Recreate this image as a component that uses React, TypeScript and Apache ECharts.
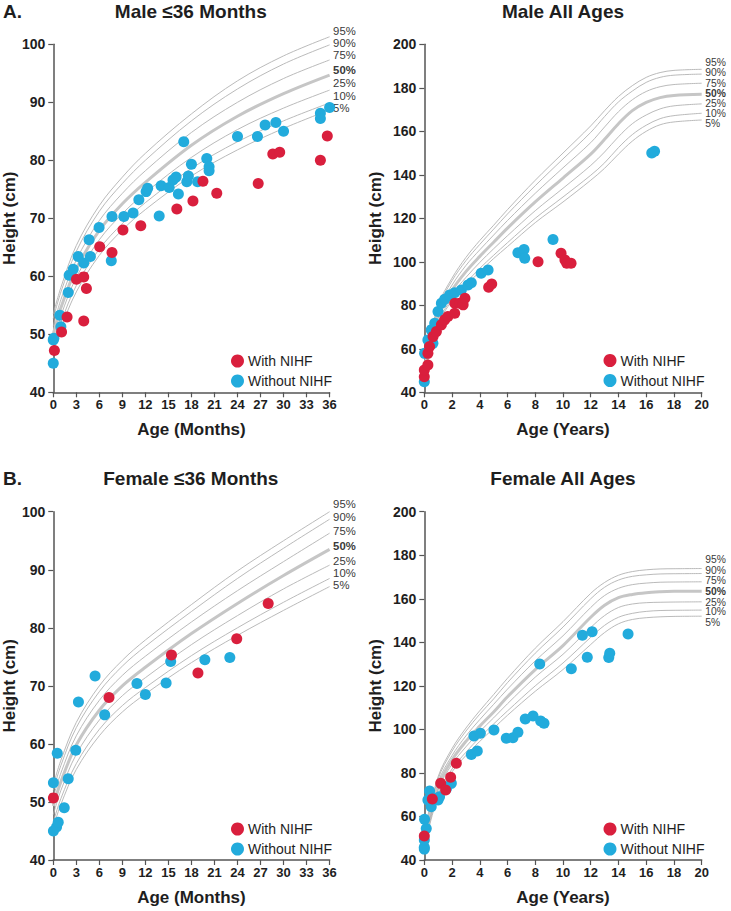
import React, { useEffect, useRef } from "react";
import * as echarts from "echarts";

const RED = "#d91f3d";
const BLUE = "#22abdc";
const FONT = "'Liberation Sans', Arial, Helvetica, sans-serif";

// ---- percentile curves ----
const percentileNames = ["95%", "90%", "75%", "50%", "25%", "10%", "5%"];

const monthAges = [0, 1, 3, 6, 9, 12, 18, 24, 30, 36];
const maleMonthP95 = [53.5, 58.1, 65.3, 72.2, 77.1, 81.2, 88.0, 93.7, 98.0, 101.3];
const maleMonthP90 = [52.7, 57.3, 64.3, 71.2, 76.0, 80.0, 86.8, 92.3, 96.6, 99.9];
const maleMonthP75 = [51.4, 56.0, 62.8, 69.6, 74.3, 78.2, 84.8, 90.0, 94.1, 97.3];
const maleMonthP50 = [50.0, 54.6, 61.3, 67.9, 72.5, 76.2, 82.6, 87.6, 91.5, 94.7];
const maleMonthP25 = [48.6, 53.2, 59.8, 66.3, 70.8, 74.4, 80.5, 85.3, 89.0, 92.1];
const maleMonthP10 = [47.6, 52.0, 58.4, 64.7, 69.1, 72.7, 78.6, 83.2, 86.8, 89.9];
const maleMonthP5 = [46.8, 51.0, 57.3, 63.6, 68.0, 71.5, 77.3, 81.8, 85.5, 88.7];

const femaleMonthP95 = [52.9, 57.2, 63.7, 70.0, 74.4, 77.9, 84.0, 89.8, 95.0, 100.0];
const femaleMonthP90 = [52.0, 56.3, 62.8, 69.0, 73.4, 76.8, 82.8, 88.5, 93.7, 98.7];
const femaleMonthP75 = [50.8, 55.0, 61.4, 67.5, 71.8, 75.1, 81.0, 86.4, 91.4, 96.3];
const femaleMonthP50 = [49.3, 53.5, 59.8, 65.8, 70.0, 73.2, 79.0, 84.2, 89.0, 93.5];
const femaleMonthP25 = [47.8, 52.0, 58.2, 64.1, 68.3, 71.4, 77.1, 82.1, 86.7, 90.8];
const femaleMonthP10 = [46.5, 50.6, 56.6, 62.5, 66.6, 69.7, 75.2, 80.0, 84.4, 88.5];
const femaleMonthP5 = [45.6, 49.6, 55.6, 61.4, 65.5, 68.6, 74.0, 78.7, 83.0, 87.1];

const yearAges = [0, 1, 2, 3, 4, 5, 6, 8, 10, 12, 13, 14, 15, 16, 17, 18, 20];
const maleYearP95 = [53.5, 80.0, 92.5, 102.0, 109.8, 116.8, 124.0, 137.5, 150.0, 162.5, 169.5, 176.0, 181.0, 184.8, 187.0, 188.0, 188.5];
const maleYearP90 = [52.7, 79.0, 91.3, 100.5, 108.0, 115.0, 122.0, 135.0, 147.3, 159.5, 166.8, 173.5, 178.5, 182.5, 184.8, 185.8, 186.3];
const maleYearP75 = [51.4, 77.5, 89.3, 98.3, 105.5, 112.3, 119.0, 131.5, 143.2, 154.8, 162.0, 169.0, 174.5, 178.3, 180.5, 181.5, 182.1];
const maleYearP50 = [50.0, 75.7, 87.0, 95.5, 102.5, 109.0, 115.5, 127.5, 138.5, 149.5, 156.3, 163.5, 169.5, 173.3, 175.5, 176.5, 177.0];
const maleYearP25 = [48.6, 74.0, 85.0, 92.8, 99.7, 106.0, 112.0, 123.5, 133.8, 144.3, 150.5, 157.5, 163.5, 167.5, 170.3, 171.7, 172.6];
const maleYearP10 = [47.6, 72.5, 83.0, 90.3, 97.0, 103.0, 108.8, 120.0, 129.8, 139.8, 145.5, 152.5, 158.5, 162.8, 165.8, 167.2, 168.3];
const maleYearP5 = [46.8, 71.5, 82.0, 89.0, 95.5, 101.5, 107.0, 118.0, 127.5, 137.5, 143.0, 149.5, 155.5, 160.0, 163.0, 164.3, 165.2];

const femaleYearP95 = [52.9, 78.3, 91.2, 100.6, 108.6, 116.0, 123.5, 137.3, 149.5, 162.5, 167.5, 170.8, 172.5, 173.3, 173.7, 173.8, 173.9];
const femaleYearP90 = [52.0, 77.3, 90.0, 99.2, 107.0, 114.0, 121.5, 135.0, 147.0, 160.0, 165.3, 168.6, 170.3, 171.0, 171.4, 171.5, 171.6];
const femaleYearP75 = [50.8, 75.8, 88.0, 97.0, 104.5, 111.5, 118.5, 131.5, 143.0, 156.0, 161.5, 164.8, 166.5, 167.2, 167.6, 167.7, 167.8];
const femaleYearP50 = [49.3, 74.0, 86.0, 94.5, 101.5, 108.0, 115.0, 127.5, 138.5, 151.5, 157.0, 160.5, 162.0, 162.8, 163.2, 163.4, 163.5];
const femaleYearP25 = [47.8, 72.3, 84.0, 92.0, 99.0, 105.3, 111.8, 124.0, 134.5, 146.8, 152.3, 156.0, 157.6, 158.2, 158.4, 158.5, 158.6];
const femaleYearP10 = [46.5, 70.7, 81.8, 89.5, 96.3, 102.5, 108.5, 120.0, 130.5, 142.3, 147.8, 151.5, 153.3, 154.2, 154.6, 154.7, 154.8];
const femaleYearP5 = [45.6, 69.5, 80.5, 88.0, 94.5, 100.5, 106.5, 117.5, 127.5, 139.0, 144.5, 148.5, 150.5, 151.3, 151.7, 151.9, 152.0];

// ---- patient data [age, height] ----
const maleMonthsWith = [
  [0.15, 47.2], [1.08, 50.4], [1.8, 53.0], [3.02, 59.5], [3.97, 59.9], [3.97, 52.3], [4.32, 57.9],
  [6.05, 65.1], [7.65, 64.1], [9.08, 68.0], [11.4, 68.7], [16.1, 71.6], [18.2, 73.0], [19.5, 76.4],
  [21.3, 74.3], [26.7, 76.0], [28.6, 81.1], [29.5, 81.4], [34.8, 80.0], [35.7, 84.2],
];
const maleMonthsWithout = [
  [0, 45.0], [0, 49.0], [0.08, 49.3], [0.86, 53.3], [0.99, 51.3], [1.95, 57.2], [2.07, 60.2],
  [2.6, 61.2], [3.24, 63.4], [3.97, 62.3], [4.67, 66.3], [4.84, 63.4], [5.97, 68.4], [7.56, 62.7],
  [7.65, 70.3], [9.2, 70.3], [10.4, 70.9], [11.15, 73.2], [12.1, 74.6], [12.3, 75.2], [13.8, 70.4],
  [14.05, 75.6], [15.1, 75.3], [15.6, 76.6], [16.0, 77.1], [16.3, 74.2], [17.0, 83.2], [17.4, 76.3],
  [17.6, 77.3], [18.0, 79.3], [18.8, 76.3], [20.0, 80.3], [20.3, 78.9], [20.3, 78.2], [24.0, 84.1],
  [26.6, 84.1], [27.6, 86.1], [29.0, 86.5], [30.0, 85.0], [34.8, 88.1], [34.8, 87.2], [36.0, 89.1],
  [36.1, 87.1],
];
const maleYearsWith = [
  [0, 47.2], [0, 50.3], [0.26, 52.6], [0.26, 57.9], [0.38, 61.0], [0.63, 65.6], [0.87, 67.9],
  [1.23, 71.0], [1.47, 73.3], [1.7, 74.8], [2.19, 76.3], [2.2, 80.9], [2.55, 80.9], [2.8, 80.2],
  [2.93, 83.2], [4.64, 88.3], [4.86, 89.8], [8.2, 100.0], [9.86, 103.9], [10.14, 100.8],
  [10.27, 99.3], [10.58, 99.3],
];
const maleYearsWithout = [
  [0, 44.9], [0.02, 57.9], [0.26, 64.1], [0.5, 68.7], [0.62, 62.5], [0.75, 71.7], [0.99, 77.1],
  [1.23, 80.9], [1.47, 82.8], [1.83, 84.7], [2.19, 85.8], [2.67, 87.0], [3.15, 89.3], [3.39, 90.4],
  [4.1, 94.7], [4.6, 96.2], [6.75, 104.2], [7.19, 105.7], [7.24, 101.6], [9.28, 110.3],
  [16.4, 150.0], [16.6, 150.8],
];
const femaleMonthsWith = [
  [0.02, 50.7], [7.26, 68.0], [15.4, 75.3], [18.85, 72.2], [23.9, 78.1], [28.0, 84.2],
];
const femaleMonthsWithout = [
  [0.02, 45.0], [0.43, 45.7], [0.65, 46.5], [1.43, 49.0], [0.02, 53.3], [1.95, 54.0], [0.52, 58.4],
  [2.93, 58.9], [3.28, 67.2], [5.45, 71.7], [6.7, 65.0], [10.9, 70.4], [12.0, 68.5], [14.7, 70.5],
  [15.3, 74.2], [19.75, 74.5], [23.0, 74.9],
];
const femaleYearsWith = [
  [0, 51.0], [0.58, 68.0], [1.18, 75.2], [1.54, 72.2], [1.9, 78.0], [2.31, 84.4],
];
const femaleYearsWithout = [
  [0, 45.0], [0, 45.8], [0, 49.2], [0.14, 54.5], [0.02, 58.7], [0.26, 67.6], [0.38, 71.7],
  [0.5, 64.5], [0.63, 68.6], [0.99, 67.6], [1.1, 69.1], [1.6, 72.9], [1.95, 75.2], [3.39, 88.5],
  [3.58, 97.0], [3.82, 90.1], [4.04, 98.2], [5.02, 99.7], [5.91, 95.9], [6.39, 96.2], [6.75, 98.7],
  [7.28, 104.8], [7.84, 106.2], [8.39, 103.9], [8.63, 102.8], [8.32, 130.0], [10.6, 127.9],
  [11.4, 143.2], [11.75, 133.1], [12.1, 144.9], [13.3, 133.0], [13.37, 135.0], [14.69, 143.8],
];

const titles = ["Male ≤36 Months", "Male All Ages", "Female ≤36 Months", "Female All Ages"];
const xNames = ["Age (Months)", "Age (Years)", "Age (Months)", "Age (Years)"];

// layout
const grids = [
  { left: 52, top: 44.3, width: 277.6, height: 348 },
  { left: 424.3, top: 44.3, width: 277.4, height: 348 },
  { left: 52, top: 511.7, width: 277.6, height: 348.3 },
  { left: 424.3, top: 511.7, width: 277.4, height: 348.3 },
];
const labelDy = [
  [-6, -2.3, -4.6, -5, -6.8, -7.3, -1.8],
  [-7.2, -1.6, -0.2, -1.1, -0.6, 0, 4],
  [-7.4, -2.1, -1.9, -3.1, -4.6, -5.6, -2],
  [-8.8, -3.5, -1.3, 0.6, 0.2, 1.6, 6.3],
];
const labelFont = [11.3, 10.3, 11.3, 10.3];

const panels = [
  {
    ages: monthAges,
    curves: [maleMonthP95, maleMonthP90, maleMonthP75, maleMonthP50, maleMonthP25, maleMonthP10, maleMonthP5],
    withData: maleMonthsWith, withoutData: maleMonthsWithout, xMax: 36, xInt: 3, yMax: 100, yInt: 10,
  },
  {
    ages: yearAges,
    curves: [maleYearP95, maleYearP90, maleYearP75, maleYearP50, maleYearP25, maleYearP10, maleYearP5],
    withData: maleYearsWith, withoutData: maleYearsWithout, xMax: 20, xInt: 2, yMax: 200, yInt: 20,
  },
  {
    ages: monthAges,
    curves: [femaleMonthP95, femaleMonthP90, femaleMonthP75, femaleMonthP50, femaleMonthP25, femaleMonthP10, femaleMonthP5],
    withData: femaleMonthsWith, withoutData: femaleMonthsWithout, xMax: 36, xInt: 3, yMax: 100, yInt: 10,
  },
  {
    ages: yearAges,
    curves: [femaleYearP95, femaleYearP90, femaleYearP75, femaleYearP50, femaleYearP25, femaleYearP10, femaleYearP5],
    withData: femaleYearsWith, withoutData: femaleYearsWithout, xMax: 20, xInt: 2, yMax: 200, yInt: 20,
  },
];

const AXIS_COLOR = "#555";
const TEXT_COLOR = "#1e1e1e";

export default function App() {
  const ref = useRef<HTMLDivElement>(null);
  useEffect(() => {
    if (!ref.current) return;
    const chart = echarts.init(ref.current, undefined, { renderer: "svg" });

    const series: any[] = [];
    panels.forEach((p, i) => {
      p.curves.forEach((c, k) => {
        const isMed = k === 3;
        series.push({
          type: "line",
          xAxisIndex: i,
          yAxisIndex: i,
          data: p.ages.map((a, j) => [a, c[j]]),
          showSymbol: false,
          symbol: "none",
          smooth: 0.35,
          clip: false,
          silent: true,
          z: 1,
          lineStyle: { color: isMed ? "#c6c6c6" : "#b2b2b2", width: isMed ? 3 : 0.9 },
        });
      });
      series.push({
        type: "scatter", name: "Without NIHF", xAxisIndex: i, yAxisIndex: i,
        data: p.withoutData, symbolSize: 11, itemStyle: { color: BLUE, opacity: 1 }, z: 3,
      });
      series.push({
        type: "scatter", name: "With NIHF", xAxisIndex: i, yAxisIndex: i,
        data: p.withData, symbolSize: 11, itemStyle: { color: RED, opacity: 1 }, z: 4,
      });
    });

    const xAxis = panels.map((p, i) => ({
      type: "value", gridIndex: i, min: 0, max: p.xMax, interval: p.xInt,
      name: xNames[i], nameLocation: "middle", nameGap: 29,
      nameTextStyle: { fontSize: 17, fontWeight: "bold", color: TEXT_COLOR, fontFamily: FONT },
      axisLine: { show: true, lineStyle: { color: AXIS_COLOR, width: 1.5 } },
      axisTick: { show: true, length: 5, lineStyle: { color: AXIS_COLOR, width: 1.2 } },
      axisLabel: { fontSize: 13, fontWeight: "bold", color: TEXT_COLOR, margin: 6, fontFamily: FONT },
      splitLine: { show: false },
    }));
    const yAxis = panels.map((p, i) => ({
      type: "value", gridIndex: i, min: 40, max: p.yMax, interval: p.yInt,
      name: "Height (cm)", nameLocation: "middle", nameRotate: 90, nameGap: i % 2 === 0 ? 33 : 40,
      nameTextStyle: { fontSize: 17, fontWeight: "bold", color: TEXT_COLOR, fontFamily: FONT },
      axisLine: { show: true, lineStyle: { color: AXIS_COLOR, width: 1.5 } },
      axisTick: { show: true, length: 5, lineStyle: { color: AXIS_COLOR, width: 1.2 } },
      axisLabel: { fontSize: 14, fontWeight: "bold", color: TEXT_COLOR, margin: 8, fontFamily: FONT },
      splitLine: { show: false },
    }));

    const legendPos = [
      { left: 226, top: 349 },
      { left: 598.5, top: 348.5 },
      { left: 226, top: 817 },
      { left: 598.5, top: 817 },
    ];
    const legend = legendPos.map((lp) => ({
      ...lp,
      orient: "vertical",
      data: ["With NIHF", "Without NIHF"],
      icon: "circle",
      itemWidth: 13,
      itemHeight: 13,
      itemGap: 6,
      itemStyle: { opacity: 1 },
      selectedMode: false,
      textStyle: { fontSize: 14, color: TEXT_COLOR, fontFamily: FONT, padding: [0, 0, 0, -1] },
    }));

    chart.setOption({
      animation: false,
      backgroundColor: "#fff",
      textStyle: { fontFamily: FONT },
      grid: grids,
      xAxis,
      yAxis,
      legend,
      series,
    });

    const graphic: any[] = [];
    titles.forEach((t, i) => {
      const g = grids[i];
      graphic.push({
        type: "text",
        x: g.left + g.width / 2,
        y: i < 2 ? 11 : 478.5,
        style: {
          text: t, fill: TEXT_COLOR, fontSize: 19, fontWeight: "bold", fontFamily: FONT,
          textAlign: "center", textVerticalAlign: "middle",
        },
      });
    });
    [["A.", 11], ["B.", 478.5]].forEach(([t, y]) => {
      graphic.push({
        type: "text", x: 3, y,
        style: {
          text: t, fill: TEXT_COLOR, fontSize: 19, fontWeight: "bold", fontFamily: FONT,
          textAlign: "left", textVerticalAlign: "middle",
        },
      });
    });
    panels.forEach((p, i) => {
      const last = p.ages.length - 1;
      p.curves.forEach((c, k) => {
        const pt = chart.convertToPixel({ gridIndex: i } as any, [p.ages[last], c[last]]) as number[];
        if (!pt) return;
        graphic.push({
          type: "text",
          x: pt[0] + 3.5,
          y: pt[1] + labelDy[i][k],
          style: {
            text: percentileNames[k], fill: "#3a3a3a", fontSize: labelFont[i],
            lineHeight: labelFont[i] - 1,
            fontWeight: k === 3 ? "bold" : "normal", fontFamily: FONT,
            textAlign: "left", textVerticalAlign: "middle",
          },
        });
      });
    });
    chart.setOption({ graphic });

    return () => chart.dispose();
  }, []);

  return (
    <div
      ref={ref}
      style={{ position: "fixed", left: 0, top: 0, width: 731, height: 911, background: "#fff" }}
    />
  );
}
